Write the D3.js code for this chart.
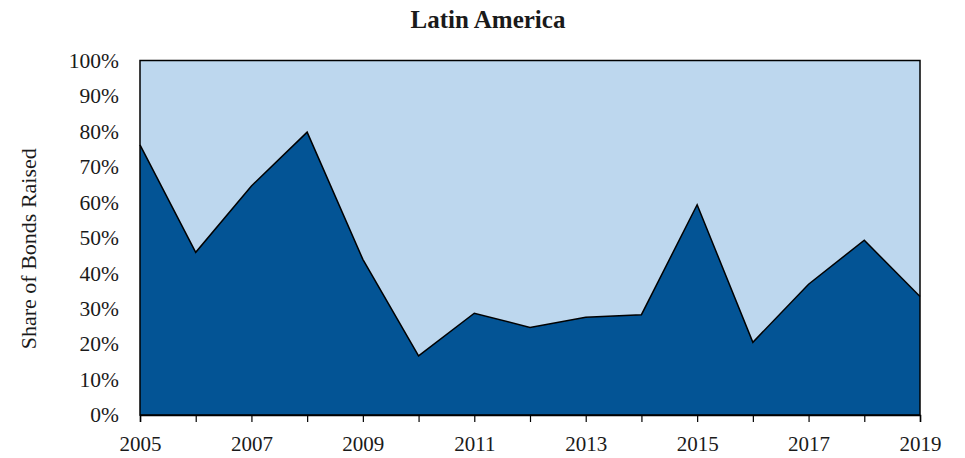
<!DOCTYPE html>
<html>
<head>
<meta charset="utf-8">
<script src="https://cdn.jsdelivr.net/npm/d3@7"></script>
<style>
  body { margin: 0; background: #fff; }
  text { font-family: "Liberation Serif", "DejaVu Serif", serif; fill: #1a1a1a; }
</style>
</head>
<body>
<div id="target"></div>
<script>
var width = 965,
    height = 458;

var years = [2005, 2006, 2007, 2008, 2009, 2010, 2011, 2012, 2013, 2014, 2015, 2016, 2017, 2018, 2019];
// share of bonds raised (dark series), in %
var shareValues = [76.2, 45.9, 64.6, 79.8, 43.9, 16.7, 28.7, 24.7, 27.6, 28.3, 59.3, 20.5, 36.9, 49.3, 33.4];
var yTicks = [0, 10, 20, 30, 40, 50, 60, 70, 80, 90, 100];
var xLabelYears = [2005, 2007, 2009, 2011, 2013, 2015, 2017, 2019];

var margin = {top: 60.5, right: 45, bottom: 43, left: 140};

var svg = d3.select('#target').append('svg')
    .attr('width', width)
    .attr('height', height);

var x = d3.scaleLinear().domain([2005, 2019]).range([margin.left, width - margin.right]);
var y = d3.scaleLinear().domain([0, 100]).range([height - margin.bottom, margin.top]);

var rows = years.map(function (yr, i) {
    return {year: yr, share: shareValues[i], rest: 100 - shareValues[i]};
});
var series = d3.stack().keys(['share', 'rest'])(rows);
var fills = ['#035495', '#bdd7ee'];

var area = d3.area()
    .x(function (d) { return x(d.data.year); })
    .y0(function (d) { return y(d[0]); })
    .y1(function (d) { return y(d[1]); });

svg.selectAll('path.layer')
    .data(series)
    .enter()
    .append('path')
    .attr('class', 'layer')
    .attr('d', area)
    .style('fill', function (d, i) { return fills[i]; });

// boundary line between the two areas
svg.append('path')
    .datum(rows)
    .attr('d', d3.line()
        .x(function (d) { return x(d.year); })
        .y(function (d) { return y(d.share); }))
    .style('fill', 'none')
    .style('stroke', '#000')
    .style('stroke-width', 1.5);

// plot frame
svg.append('rect')
    .attr('x', x(2005))
    .attr('y', y(100))
    .attr('width', x(2019) - x(2005))
    .attr('height', y(0) - y(100))
    .style('fill', 'none')
    .style('stroke', '#000')
    .style('stroke-width', 1.5);

// x axis
var xAxis = d3.axisBottom(x)
    .tickValues(years)
    .tickSize(7)
    .tickFormat(function (d) { return xLabelYears.indexOf(d) >= 0 ? d : ''; });
var gx = svg.append('g')
    .attr('transform', 'translate(0,' + y(0) + ')')
    .call(xAxis);
gx.select('.domain').style('stroke', '#000').style('stroke-width', 1.5);
gx.selectAll('.tick line').style('stroke', '#000').style('stroke-width', 1.2);
gx.selectAll('.tick text')
    .attr('dy', '0.71em')
    .attr('y', 21)
    .style('font-size', '21px')
    .style('font-family', '"Liberation Serif", serif')
    .style('fill', '#1a1a1a');

// y axis
var yAxis = d3.axisLeft(y)
    .tickValues(yTicks)
    .tickSize(0)
    .tickPadding(21)
    .tickFormat(function (d) { return d + '%'; });
var gy = svg.append('g')
    .attr('transform', 'translate(' + x(2005) + ',0)')
    .call(yAxis);
gy.select('.domain').remove();
gy.selectAll('.tick text')
    .style('font-size', '21.5px')
    .style('font-family', '"Liberation Serif", serif')
    .style('fill', '#1a1a1a');

// axis title
svg.append('text')
    .attr('transform', 'translate(36,' + (y(50) + 11) + ') rotate(-90)')
    .attr('text-anchor', 'middle')
    .style('font-size', '22px')
    .text('Share of Bonds Raised');

// chart title
svg.append('text')
    .attr('x', 488)
    .attr('y', 28)
    .attr('text-anchor', 'middle')
    .style('font-size', '25px')
    .style('font-weight', 'bold')
    .text('Latin America');
</script>
</body>
</html>
